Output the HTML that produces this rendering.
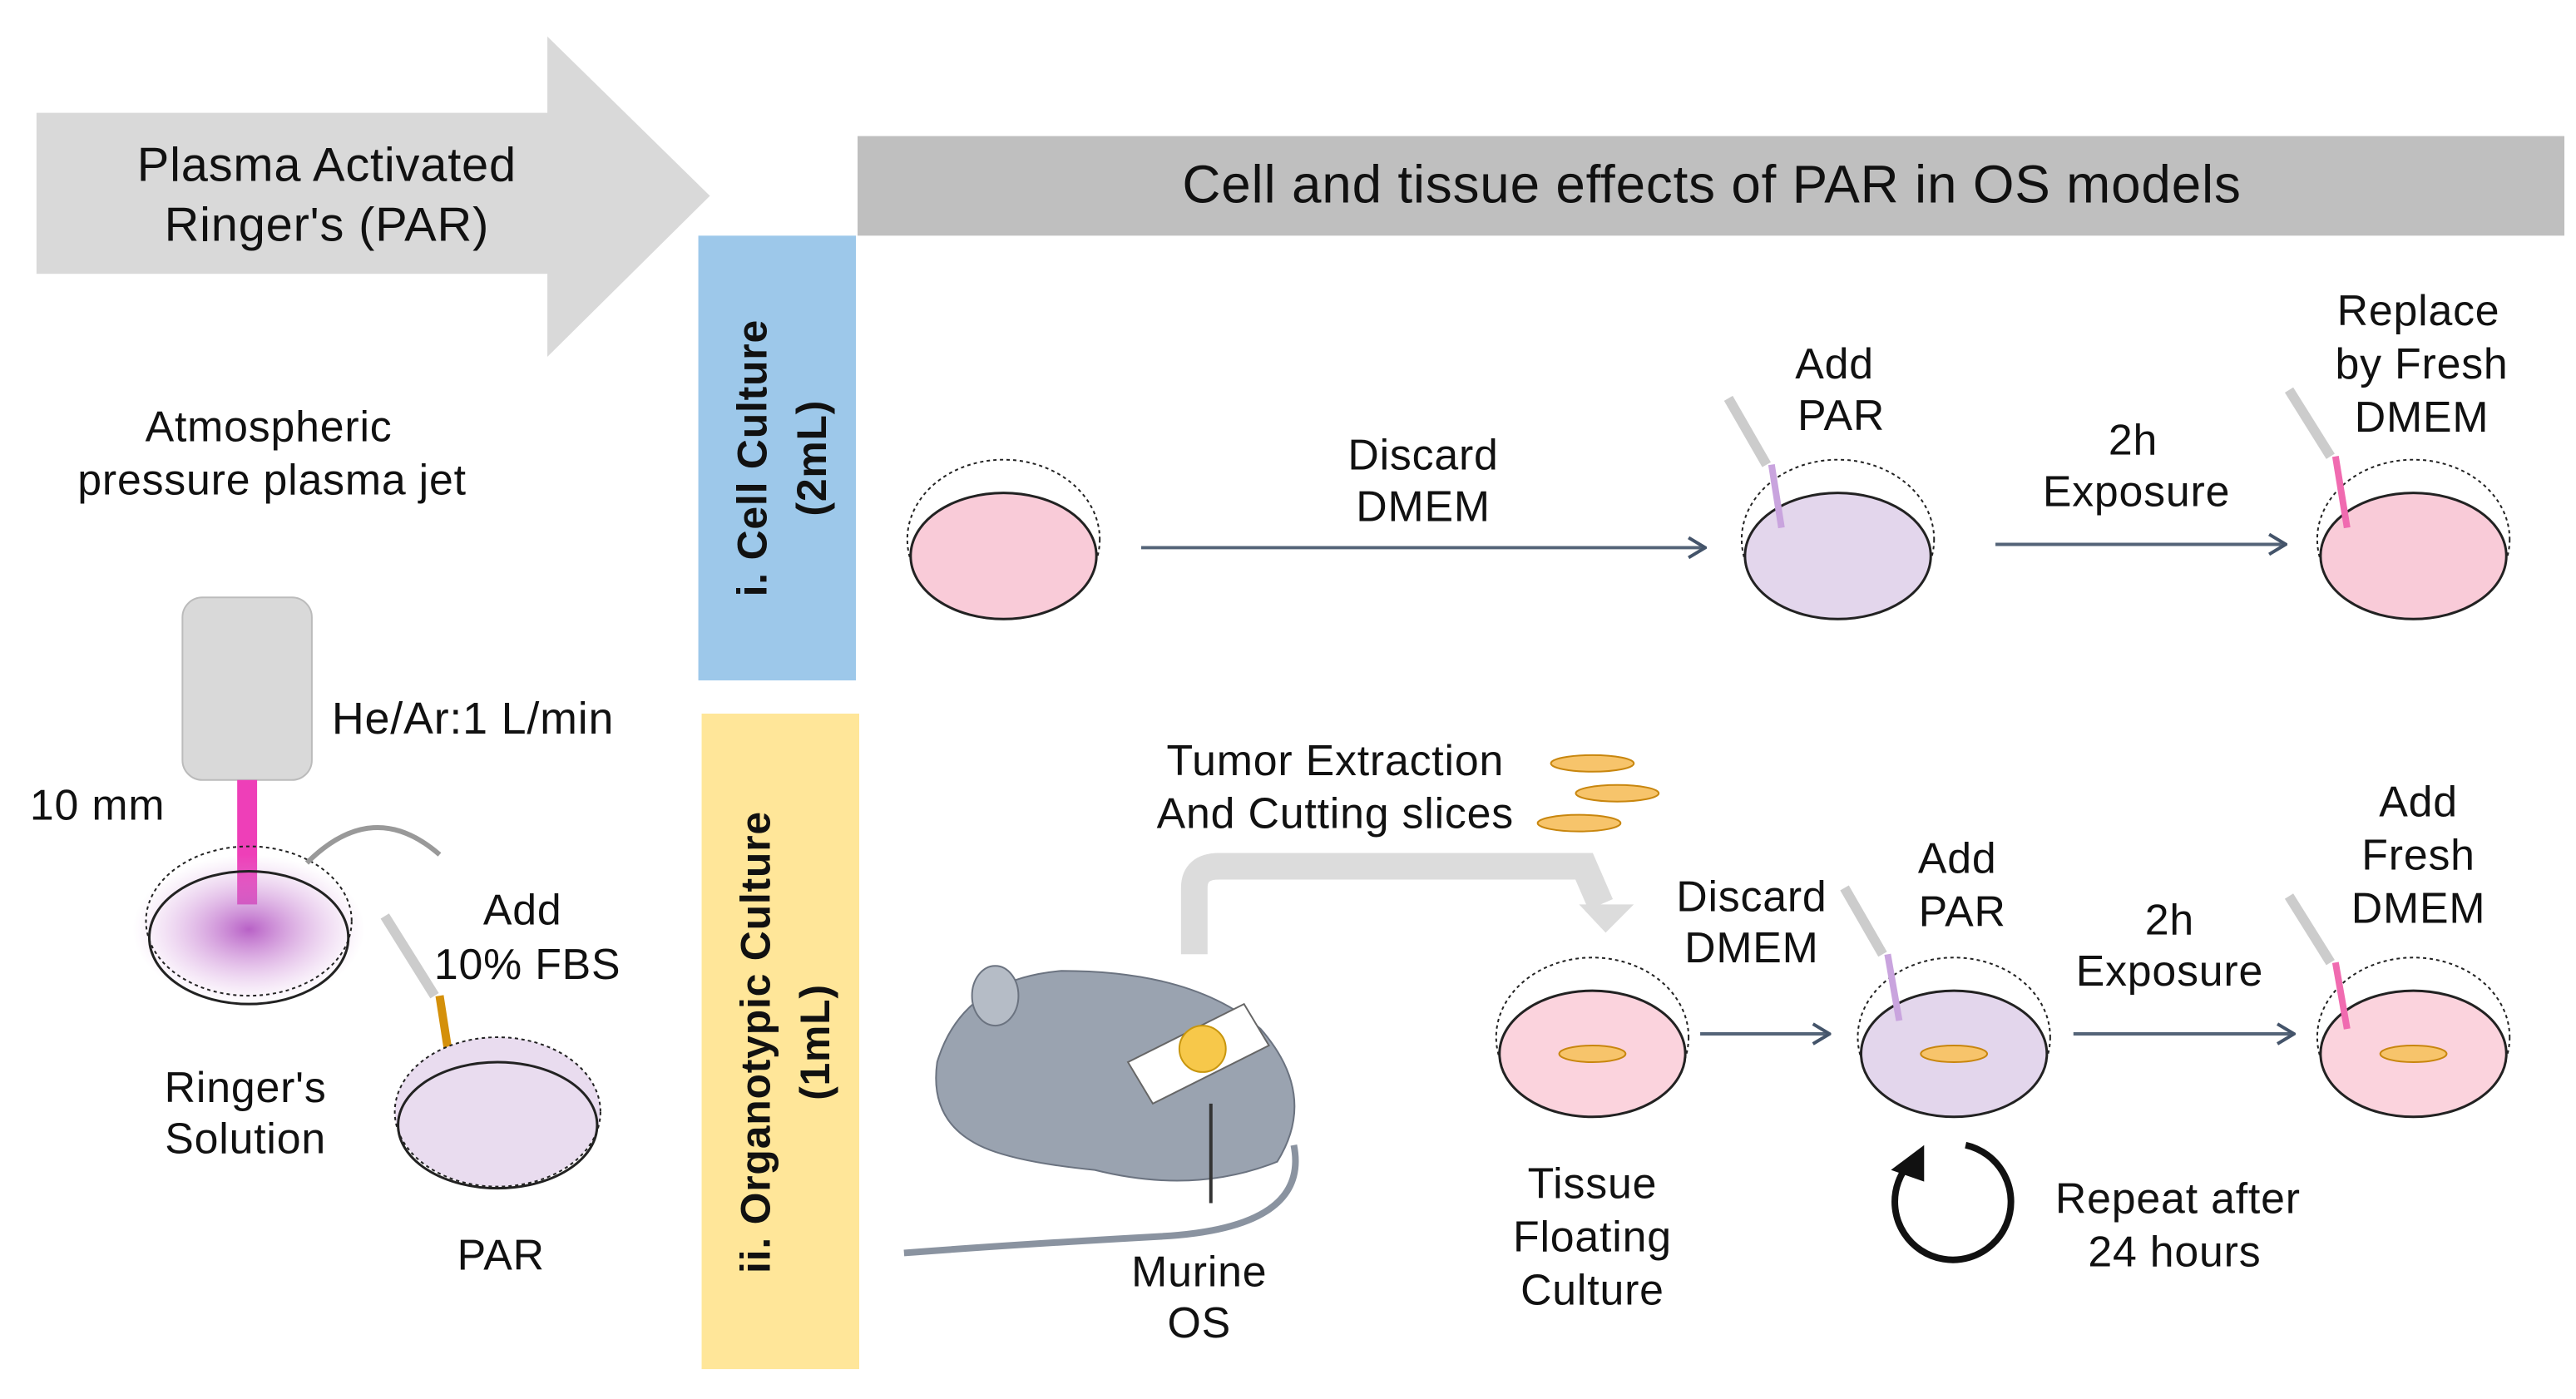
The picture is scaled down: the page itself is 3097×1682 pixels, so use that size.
<!DOCTYPE html>
<html><head><meta charset="utf-8"><style>
html,body{margin:0;padding:0;background:#fff}
svg{display:block}
text{font-family:"Liberation Sans",sans-serif;fill:#111;letter-spacing:0.4px}
</style></head><body>
<svg width="3097" height="1682" viewBox="0 0 1553 843" preserveAspectRatio="none" xmlns="http://www.w3.org/2000/svg">
<defs>
<marker id="ar" markerWidth="12" markerHeight="14" refX="11" refY="7" orient="auto" markerUnits="userSpaceOnUse">
<path d="M1,1 L11,7 L1,13" fill="none" stroke="#44546a" stroke-width="2"/></marker>
<radialGradient id="pg"><stop offset="0" stop-color="#b04fc0" stop-opacity=".9"/><stop offset="1" stop-color="#d9a3e0" stop-opacity="0"/></radialGradient>
</defs>
<polygon points="22,68 330,68 330,22 428,118 330,215 330,165 22,165" fill="#d9d9d9"/>
<text x="197" y="109" font-size="29" text-anchor="middle">Plasma Activated</text>
<text x="197" y="145" font-size="29" text-anchor="middle">Ringer's (PAR)</text>
<rect x="517" y="82" width="1029" height="60" fill="#bfbfbf"/>
<text x="1032" y="122" font-size="32" text-anchor="middle" letter-spacing="1">Cell and tissue effects of PAR in OS models</text>
<rect x="421" y="142" width="95" height="268" fill="#9dc8ea"/>
<text transform="translate(462,276) rotate(-90)" font-size="25" font-weight="bold" text-anchor="middle">i. Cell Culture</text>
<text transform="translate(498,276) rotate(-90)" font-size="25" font-weight="bold" text-anchor="middle">(2mL)</text>
<rect x="423" y="430" width="95" height="395" fill="#ffe699"/>
<text transform="translate(464,628) rotate(-90)" font-size="25" font-weight="bold" text-anchor="middle">ii. Organotypic Culture</text>
<text transform="translate(500,628) rotate(-90)" font-size="25" font-weight="bold" text-anchor="middle">(1mL)</text>
<text x="162" y="266" font-size="26" text-anchor="middle">Atmospheric</text>
<text x="164" y="298" font-size="26" text-anchor="middle">pressure plasma jet</text>
<rect x="110" y="360" width="78" height="110" rx="12" fill="#d9d9d9" stroke="#bbb"/>
<rect x="143" y="470" width="12" height="75" fill="#ee3fb8"/>
<text x="200" y="442" font-size="27">He/Ar:1 L/min</text>
<text x="18" y="494" font-size="26">10 mm</text>
<ellipse cx="150" cy="560" rx="70" ry="45" fill="url(#pg)"/>
<ellipse cx="150" cy="555" rx="62" ry="45" fill="none" stroke="#222" stroke-dasharray="2,2"/>
<ellipse cx="150" cy="565" rx="60" ry="40" fill="none" stroke="#222" stroke-width="1.5"/>
<path d="M185,520 Q225,480 265,515" fill="none" stroke="#999" stroke-width="3"/>
<text x="148" y="664" font-size="26" text-anchor="middle">Ringer's</text>
<text x="148" y="695" font-size="26" text-anchor="middle">Solution</text>
<line x1="232" y1="552" x2="262" y2="600" stroke="#ccc" stroke-width="6"/>
<line x1="265" y1="600" x2="272" y2="645" stroke="#d4900a" stroke-width="5"/>
<text x="315" y="557" font-size="26" text-anchor="middle">Add</text>
<text x="318" y="590" font-size="26" text-anchor="middle">10% FBS</text>
<ellipse cx="300" cy="670" rx="62" ry="45" fill="#e9dcef" stroke="#222" stroke-dasharray="2,2"/>
<ellipse cx="300" cy="678" rx="60" ry="38" fill="none" stroke="#222" stroke-width="1.5"/>
<text x="302" y="765" font-size="26" text-anchor="middle">PAR</text>
<ellipse cx="605" cy="325" rx="58" ry="48" fill="#fff" stroke="#222" stroke-dasharray="2,2"/>
<ellipse cx="605" cy="335" rx="56" ry="38" fill="#f9cbd8" stroke="#222" stroke-width="1.5"/>
<text x="858" y="283" font-size="26" text-anchor="middle">Discard</text>
<text x="858" y="314" font-size="26" text-anchor="middle">DMEM</text>
<line x1="688" y1="330" x2="1028" y2="330" stroke="#546478" stroke-width="2" marker-end="url(#ar)"/>
<ellipse cx="1108" cy="325" rx="58" ry="48" fill="#fff" stroke="#222" stroke-dasharray="2,2"/>
<ellipse cx="1108" cy="335" rx="56" ry="38" fill="#e3d6ec" stroke="#222" stroke-width="1.5"/>
<line x1="1042" y1="240" x2="1065" y2="280" stroke="#ccc" stroke-width="6"/>
<line x1="1068" y1="280" x2="1074" y2="318" stroke="#c9a4de" stroke-width="4"/>
<text x="1106" y="228" font-size="26" text-anchor="middle">Add</text>
<text x="1110" y="259" font-size="26" text-anchor="middle">PAR</text>
<text x="1286" y="274" font-size="26" text-anchor="middle">2h</text>
<text x="1288" y="305" font-size="26" text-anchor="middle">Exposure</text>
<line x1="1203" y1="328" x2="1378" y2="328" stroke="#546478" stroke-width="2" marker-end="url(#ar)"/>
<ellipse cx="1455" cy="325" rx="58" ry="48" fill="#fff" stroke="#222" stroke-dasharray="2,2"/>
<ellipse cx="1455" cy="335" rx="56" ry="38" fill="#f9cbd8" stroke="#222" stroke-width="1.5"/>
<line x1="1380" y1="235" x2="1405" y2="275" stroke="#ccc" stroke-width="6"/>
<line x1="1408" y1="275" x2="1415" y2="318" stroke="#f06bb0" stroke-width="4"/>
<text x="1458" y="196" font-size="26" text-anchor="middle">Replace</text>
<text x="1460" y="228" font-size="26" text-anchor="middle">by Fresh</text>
<text x="1460" y="260" font-size="26" text-anchor="middle">DMEM</text>
<text x="805" y="467" font-size="26" text-anchor="middle">Tumor Extraction</text>
<text x="805" y="499" font-size="26" text-anchor="middle">And Cutting slices</text>
<ellipse cx="960" cy="460" rx="25" ry="5" fill="#f7c46b" stroke="#c8860e"/>
<ellipse cx="975" cy="478" rx="25" ry="5" fill="#f7c46b" stroke="#c8860e"/>
<ellipse cx="952" cy="496" rx="25" ry="5" fill="#f7c46b" stroke="#c8860e"/>
<path d="M720,575 L720,535 Q720,522 735,522 L955,522 L965,545" fill="none" stroke="#dcdcdc" stroke-width="16"/>
<polygon points="952,545 985,545 968,562" fill="#dcdcdc"/>
<path d="M565,640 Q580,590 640,585 Q720,585 760,620 Q795,660 770,700 Q720,720 660,705 Q610,700 590,690 Q560,675 565,640 Z" fill="#9aa3b0" stroke="#6b7380"/>
<ellipse cx="600" cy="600" rx="14" ry="18" fill="#b5bcc6" stroke="#6b7380"/>
<path d="M780,690 Q790,740 700,745 Q610,750 545,755" fill="none" stroke="#8a93a0" stroke-width="4"/>
<polygon points="680,640 750,605 765,630 695,665" fill="#fff" stroke="#666"/>
<circle cx="725" cy="632" r="14" fill="#f7c84a" stroke="#c8960e"/>
<line x1="730" y1="725" x2="730" y2="665" stroke="#333" stroke-width="2"/>
<text x="723" y="775" font-size="26" text-anchor="middle">Murine</text>
<text x="723" y="806" font-size="26" text-anchor="middle">OS</text>
<ellipse cx="960" cy="625" rx="58" ry="48" fill="#fff" stroke="#222" stroke-dasharray="2,2"/>
<ellipse cx="960" cy="635" rx="56" ry="38" fill="#fbd3dd" stroke="#222" stroke-width="1.5"/>
<ellipse cx="960" cy="635" rx="20" ry="5" fill="#f7c46b" stroke="#c8860e"/>
<text x="960" y="722" font-size="26" text-anchor="middle">Tissue</text>
<text x="960" y="754" font-size="26" text-anchor="middle">Floating</text>
<text x="960" y="786" font-size="26" text-anchor="middle">Culture</text>
<text x="1056" y="549" font-size="26" text-anchor="middle">Discard</text>
<text x="1056" y="580" font-size="26" text-anchor="middle">DMEM</text>
<line x1="1025" y1="623" x2="1103" y2="623" stroke="#546478" stroke-width="2" marker-end="url(#ar)"/>
<ellipse cx="1178" cy="625" rx="58" ry="48" fill="#fff" stroke="#222" stroke-dasharray="2,2"/>
<ellipse cx="1178" cy="635" rx="56" ry="38" fill="#e3d6ec" stroke="#222" stroke-width="1.5"/>
<ellipse cx="1178" cy="635" rx="20" ry="5" fill="#f7c46b" stroke="#c8860e"/>
<line x1="1112" y1="535" x2="1135" y2="575" stroke="#ccc" stroke-width="6"/>
<line x1="1138" y1="575" x2="1145" y2="615" stroke="#c9a4de" stroke-width="4"/>
<text x="1180" y="526" font-size="26" text-anchor="middle">Add</text>
<text x="1183" y="558" font-size="26" text-anchor="middle">PAR</text>
<text x="1308" y="563" font-size="26" text-anchor="middle">2h</text>
<text x="1308" y="594" font-size="26" text-anchor="middle">Exposure</text>
<line x1="1250" y1="623" x2="1383" y2="623" stroke="#546478" stroke-width="2" marker-end="url(#ar)"/>
<ellipse cx="1455" cy="625" rx="58" ry="48" fill="#fff" stroke="#222" stroke-dasharray="2,2"/>
<ellipse cx="1455" cy="635" rx="56" ry="38" fill="#fbd3dd" stroke="#222" stroke-width="1.5"/>
<ellipse cx="1455" cy="635" rx="20" ry="5" fill="#f7c46b" stroke="#c8860e"/>
<line x1="1380" y1="540" x2="1405" y2="580" stroke="#ccc" stroke-width="6"/>
<line x1="1408" y1="580" x2="1415" y2="620" stroke="#f06bb0" stroke-width="4"/>
<text x="1458" y="492" font-size="26" text-anchor="middle">Add</text>
<text x="1458" y="524" font-size="26" text-anchor="middle">Fresh</text>
<text x="1458" y="556" font-size="26" text-anchor="middle">DMEM</text>
<path d="M1152,700 A35,35 0 1,0 1185,690" fill="none" stroke="#111" stroke-width="4"/>
<polygon points="1140,705 1160,690 1160,712" fill="#111"/>
<text x="1313" y="731" font-size="26" text-anchor="middle">Repeat after</text>
<text x="1311" y="763" font-size="26" text-anchor="middle">24 hours</text>
</svg>
</body></html>
